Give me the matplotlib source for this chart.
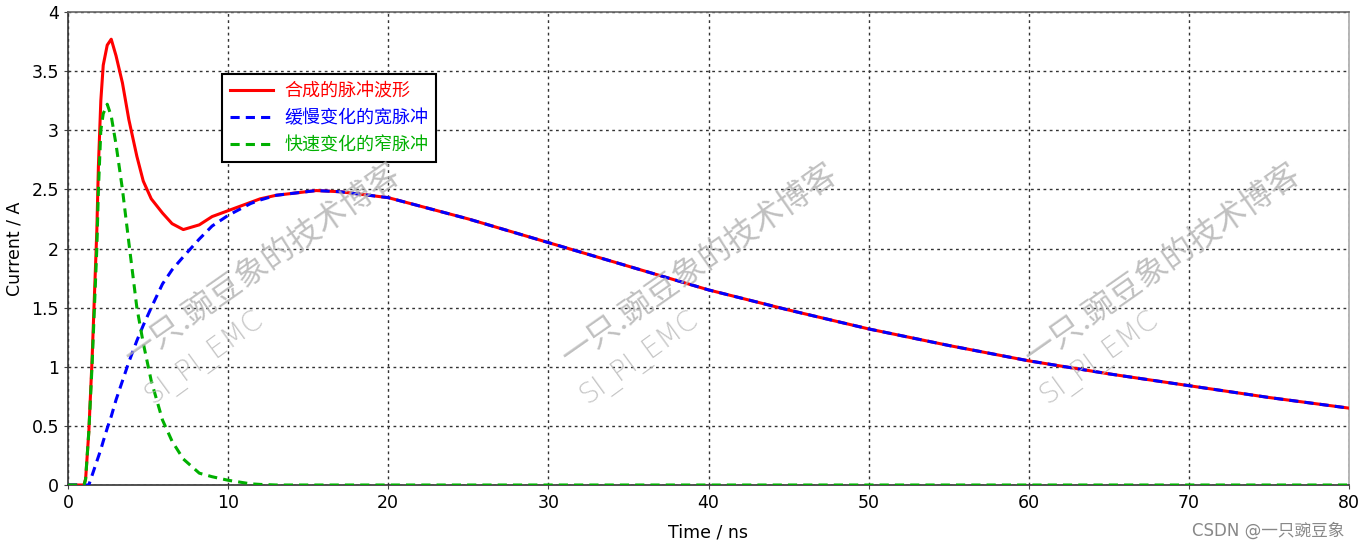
import matplotlib
matplotlib.use("Agg")
import matplotlib.pyplot as plt

plt.rcParams['font.family'] = ['DejaVu Sans', 'Noto Sans CJK SC']

# time axis (ns)
time_ns = [0, 1.0, 1.1, 1.3, 1.5, 1.8, 1.9, 2.05, 2.2, 2.45, 2.7, 3.0, 3.4, 3.8,
           4.3, 4.7, 5.2, 5.9, 6.5, 7.2, 8.2, 9.0, 10, 11.4, 12, 13, 15.5, 17,
           20, 25, 30, 35, 40, 45, 50, 55, 60, 65, 70, 75, 80]

# 快速变化的窄脉冲
fast_pulse = [0, 0, 0.05, 0.45, 1.0, 2.0, 2.5, 3.0, 3.14, 3.22, 3.12, 2.88, 2.5, 2.05,
              1.5, 1.2, 0.88, 0.55, 0.37, 0.22, 0.1, 0.07, 0.04, 0.01, 0.005, 0, 0, 0,
              0, 0, 0, 0, 0, 0, 0, 0, 0, 0, 0, 0, 0]

# 缓慢变化的宽脉冲
slow_pulse = [0, 0, 0, 0, 0.08, 0.2, 0.24, 0.3, 0.37, 0.48, 0.58, 0.72, 0.88, 1.04,
              1.22, 1.35, 1.5, 1.7, 1.82, 1.93, 2.08, 2.19, 2.28, 2.38, 2.41, 2.45, 2.49, 2.48,
              2.43, 2.25, 2.05, 1.85, 1.65, 1.48, 1.32, 1.18, 1.05, 0.94, 0.84, 0.74, 0.65]

# 合成的脉冲波形
sum_pulse = [0, 0, 0.05, 0.45, 1.05, 2.15, 2.7, 3.25, 3.55, 3.72, 3.77, 3.63, 3.4, 3.09,
             2.78, 2.57, 2.42, 2.3, 2.21, 2.16, 2.2, 2.27, 2.32, 2.39, 2.42, 2.45, 2.49, 2.48,
             2.43, 2.25, 2.05, 1.85, 1.65, 1.48, 1.32, 1.18, 1.05, 0.94, 0.84, 0.74, 0.65]

labels = ['合成的脉冲波形', '缓慢变化的宽脉冲', '快速变化的窄脉冲']
colors = ['#ff0000', '#0000ff', '#00b000']

fig = plt.figure(figsize=(13.59, 5.49), dpi=100)
ax = fig.add_axes([68 / 1359, 64 / 549, 1281 / 1359, 473 / 549])

ax.plot(time_ns, sum_pulse, color=colors[0], lw=2.2, label=labels[0], zorder=3)
ax.plot(time_ns, slow_pulse, color=colors[1], lw=2.2, ls=(0, (3, 2)), label=labels[1], zorder=4)
ax.plot(time_ns, fast_pulse, color=colors[2], lw=2.2, ls=(0, (3, 2)), label=labels[2], zorder=5)

ax.set_xlim(0, 80)
ax.set_ylim(0, 4)
ax.set_xticks(range(0, 81, 10))
ax.set_yticks([0, 0.5, 1, 1.5, 2, 2.5, 3, 3.5, 4])
ax.set_yticklabels(['0', '0.5', '1', '1.5', '2', '2.5', '3', '3.5', '4'])
ax.tick_params(labelsize=12.5, length=3, color='#444444')
ax.grid(True, color='#333333', ls=(0, (2, 2.5)), lw=1.0)
ax.set_axisbelow(True)

ax.spines['left'].set_color('#333333')
ax.spines['bottom'].set_color('#333333')
ax.spines['top'].set_color('#666666')
ax.spines['right'].set_color('#aaaaaa')
for s in ax.spines.values():
    s.set_linewidth(1.2)

ax.set_xlabel('Time / ns', fontsize=12.5, labelpad=8)
ax.set_ylabel('Current / A', fontsize=12.5, labelpad=6)

leg = ax.legend(loc='upper left', bbox_to_anchor=(0.113, 0.888),
                frameon=True, fancybox=False, edgecolor='black', handlelength=2.4,
                borderpad=0.45, labelspacing=0.5, handletextpad=0.6,
                prop={'family': ['Noto Sans CJK SC'], 'size': 13})
leg.get_frame().set_linewidth(1.5)
leg.get_frame().set_alpha(1)
for txt, c in zip(leg.get_texts(), colors):
    txt.set_color(c)

# watermarks
for cx, sx in [(262, 205), (699, 640), (1162, 1100)]:
    fig.text(cx / 1359, 1 - 265 / 549, '一只.豌豆象的技术博客', rotation=35,
             ha='center', va='center', fontsize=23, color='#b0b0b0', alpha=0.8,
             family=['Noto Sans CJK SC'], zorder=10)
    fig.text(sx / 1359, 1 - 358 / 549, 'SI_PI_EMC', rotation=36,
             ha='center', va='center', fontsize=20, color='#b8b8b8', alpha=0.8,
             family=['DejaVu Sans'], fontweight='light', zorder=10)

fig.text(1344 / 1359, 1 - 531 / 549, 'CSDN @一只豌豆象', ha='right', va='center',
         fontsize=12, color='#888888', family=['DejaVu Sans', 'Noto Sans CJK SC'])

fig.savefig('out.png', dpi=100)
